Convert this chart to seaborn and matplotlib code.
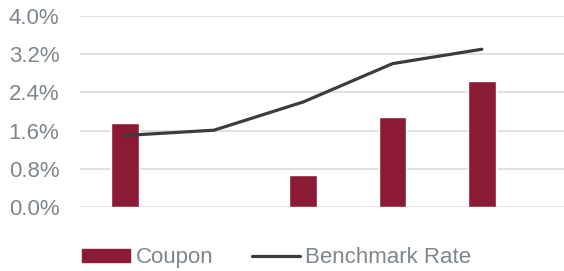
import numpy as np
import pandas as pd
import seaborn as sns
import matplotlib.pyplot as plt
from matplotlib.patches import Patch
from matplotlib.lines import Line2D
from matplotlib.ticker import FuncFormatter

categories = ['A', 'B', 'C', 'D', 'E']
coupon = [1.75, np.nan, 0.68, 1.88, 2.63]
benchmark = [1.50, 1.61, 2.20, 3.00, 3.30]

bar_color = '#8b1a35'
line_color = '#3a3d40'
text_color = '#7f868c'

sns.set_style('white')
plt.rcParams['font.family'] = ['Liberation Sans', 'DejaVu Sans']

df = pd.DataFrame({'cat': categories, 'coupon': coupon, 'benchmark': benchmark})

fig = plt.figure(figsize=(5.64, 2.71), dpi=100)
ax = fig.add_axes([0.142, 0.235, 0.858, 0.707])

sns.barplot(data=df, x='cat', y='coupon', color=bar_color, width=0.31,
            saturation=1, errorbar=None, ax=ax, zorder=3)
sns.lineplot(x=np.arange(len(categories)), y=df['benchmark'], color=line_color,
             linewidth=2.3, ax=ax, zorder=4)

ax.set_ylim(0, 4.0)
ax.set_xlim(-0.5, 4.92)
ax.set_yticks([0, 0.8, 1.6, 2.4, 3.2, 4.0])
ax.yaxis.set_major_formatter(FuncFormatter(lambda v, p: f'{v:.1f}%'))
ax.yaxis.grid(True, color='#d9d9d9', linewidth=1.1, zorder=0)
ax.set_axisbelow(True)
ax.tick_params(axis='y', labelsize=16, colors=text_color, length=0, pad=15)
ax.set_xticks([])
ax.set_xlabel('')
ax.set_ylabel('')
for s in ax.spines.values():
    s.set_visible(False)

handles = [Patch(color=bar_color, label='Coupon'),
           Line2D([0], [0], color=line_color, linewidth=2.3, label='Benchmark Rate')]
leg = fig.legend(handles=handles, loc='center', bbox_to_anchor=(0.491, 0.048), ncol=2,
                 frameon=False, fontsize=16, handlelength=2.16, handleheight=0.55,
                 handletextpad=0.23, columnspacing=1.75)
for t in leg.get_texts():
    t.set_color(text_color)

fig.savefig('out.png', dpi=100)
